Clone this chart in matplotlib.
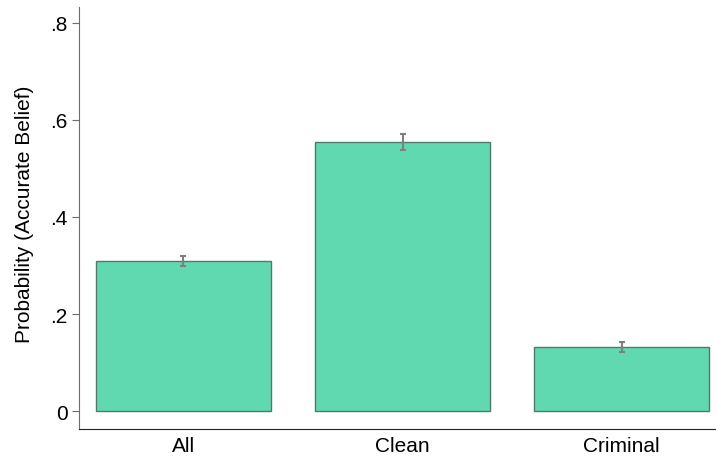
import matplotlib.pyplot as plt
import numpy as np

plt.rcParams['font.family'] = ['Liberation Sans', 'DejaVu Sans']

groups = ['All', 'Clean', 'Criminal']
prob = [0.309, 0.555, 0.132]
err = [0.011, 0.016, 0.011]
yticks = [0, 0.2, 0.4, 0.6, 0.8]
ylabels = ['0', '.2', '.4', '.6', '.8']

fig = plt.figure(figsize=(7.16, 4.64), dpi=100)
ax = fig.add_axes([0.1103, 0.0733, 0.8897, 0.9097])

x = np.arange(len(groups))
ax.bar(x, prob, width=0.8, color='#61d9b0', edgecolor='#4d7a6b', linewidth=1.0)
ax.errorbar(x, prob, yerr=err, fmt='none', ecolor='#7f7f7f', elinewidth=1.5,
            capsize=2.5, capthick=1.5)

ax.set_xlim(-0.476, 2.43)
ax.set_ylim(-0.037, 0.833)
ax.set_xticks(x)
ax.set_xticklabels(groups, fontsize=15)
ax.set_yticks(yticks)
ax.set_yticklabels(ylabels, fontsize=15)
ax.set_ylabel('Probability (Accurate Belief)', fontsize=15)
ax.yaxis.set_label_coords(-0.071, 0.51)
ax.tick_params(axis='x', length=0, pad=5)
ax.tick_params(axis='y', length=5, color='#6d6d6d', pad=3)

ax.spines['top'].set_visible(False)
ax.spines['right'].set_visible(False)
ax.spines['left'].set_color('#6d6d6d')
ax.spines['bottom'].set_color('#222222')

fig.savefig('out.png', dpi=100)
